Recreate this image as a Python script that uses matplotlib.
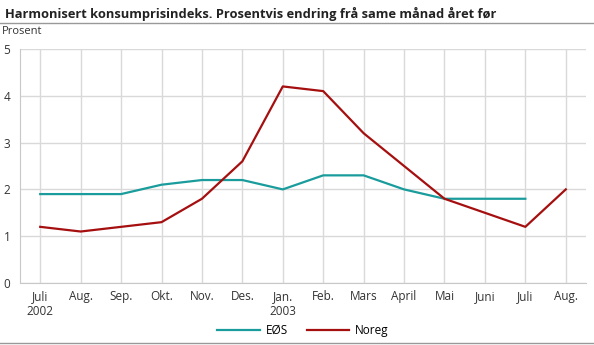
import matplotlib.pyplot as plt
import numpy as np

plt.rcParams['font.family'] = ['Open Sans', 'DejaVu Sans']

months = ["Juli\n2002", "Aug.", "Sep.", "Okt.", "Nov.", "Des.", "Jan.\n2003",
          "Feb.", "Mars", "April", "Mai", "Juni", "Juli", "Aug."]
eos = [1.9, 1.9, 1.9, 2.1, 2.2, 2.2, 2.0, 2.3, 2.3, 2.0, 1.8, 1.8, 1.8, np.nan]
noreg = [1.2, 1.1, 1.2, 1.3, 1.8, 2.6, 4.2, 4.1, 3.2, 2.5, 1.8, 1.5, 1.2, 2.0]

fig = plt.figure(figsize=(5.94, 3.45), dpi=100)
ax = fig.add_axes([0.0337, 0.1797, 0.9528, 0.6783])

x = np.arange(len(months))
ax.plot(x, eos, color='#1a9c9c', lw=1.6, label='EØS')
ax.plot(x, noreg, color='#a50f0f', lw=1.6, label='Noreg')

ax.set_xlim(-0.5, 13.5)
ax.set_ylim(0, 5)
ax.set_xticks(x)
ax.set_xticklabels(months, fontsize=8.5, color='#333333', linespacing=1.25)
ax.set_yticks(range(6))
ax.tick_params(axis='y', labelsize=8.5, labelcolor='#333333', length=0, pad=7)
ax.tick_params(axis='x', length=0, pad=5)
ax.grid(True, color='#d9d9d9', lw=1)
ax.set_axisbelow(True)
for s in ['top', 'right']:
    ax.spines[s].set_visible(False)
for s in ['left', 'bottom']:
    ax.spines[s].set_color('#c8c8c8')

fig.text(0.008, 0.958, "Harmonisert konsumprisindeks. Prosentvis endring frå same månad året før",
         fontsize=9.3, fontweight='bold', color='#222222', va='center')
fig.add_artist(plt.Line2D([0, 1], [0.932, 0.932], color='#999999', lw=1))
fig.text(0.003, 0.91, "Prosent", fontsize=8, color='#333333', va='center')
fig.add_artist(plt.Line2D([0, 1], [0.006, 0.006], color='#999999', lw=1))

fig.legend(loc='center', bbox_to_anchor=(0.510, 0.043), ncol=2, frameon=False,
           fontsize=8.5, handlelength=3.6, columnspacing=1.6, handletextpad=0.5)

fig.savefig('out.png', dpi=100)
